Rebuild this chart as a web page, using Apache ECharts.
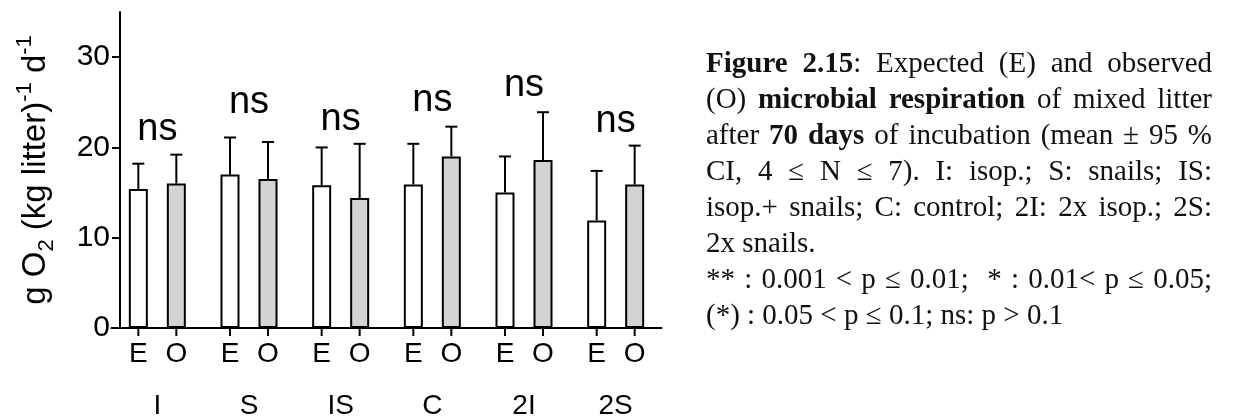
<!DOCTYPE html>
<html>
<head>
<meta charset="utf-8">
<title>Figure 2.15</title>
<script src="https://cdn.jsdelivr.net/npm/echarts@6/dist/echarts.min.js"></script>
<style>
  html, body { margin: 0; padding: 0; background: #fff; }
  #wrap { position: relative; width: 1243px; height: 418px; overflow: hidden; }
  #chart { position: absolute; left: 0; top: 0; width: 1243px; height: 418px; }
  #caption {
    position: absolute; left: 706px; top: 44px; width: 506px;
    font-family: "Liberation Serif", "Times New Roman", serif;
    font-size: 29px; line-height: 36px; color: #111;
  }
  #caption div { text-align: justify; text-align-last: justify; }
  #caption div.end { text-align-last: left; }
</style>
</head>
<body>
<div id="wrap">
  <div id="chart"></div>
  <div id="caption">
    <div><b>Figure 2.15</b>: Expected (E) and observed</div>
    <div>(O) <b>microbial respiration</b> of mixed litter</div>
    <div>after <b>70 days</b> of incubation (mean ± 95 %</div>
    <div>CI, 4 ≤ N ≤ 7). I: isop.; S: snails; IS:</div>
    <div>isop.+ snails; C: control; 2I: 2x isop.; 2S:</div>
    <div class="end">2x snails.</div>
    <div>** : 0.001 &lt; p ≤ 0.01; &nbsp;* : 0.01&lt; p ≤ 0.05;</div>
    <div class="end">(*) : 0.05 &lt; p ≤ 0.1; ns: p &gt; 0.1</div>
  </div>
</div>
<script>
// treatments and the two bars in each
const groups = ['I', 'S', 'IS', 'C', '2I', '2S'];
const subLabels = ['E', 'O'];
// means and upper end of the 95 % CI
const expectedMean = [15.4, 17.0, 15.8, 15.9, 15.0, 11.9];
const expectedUpper = [18.2, 21.1, 20.0, 20.4, 19.0, 17.4];
const observedMean = [16.0, 16.5, 14.4, 19.0, 18.6, 15.9];
const observedUpper = [19.2, 20.6, 20.4, 22.3, 23.9, 20.2];
// significance marks and the height they sit at
const sigLabels = ['ns', 'ns', 'ns', 'ns', 'ns', 'ns'];
const sigLevel = [21.7, 24.6, 22.8, 24.9, 26.5, 22.5];
const yTicks = [0, 10, 20, 30];

const FONT = '"Liberation Sans", Arial, Helvetica, sans-serif';
const BAR_W = 19;
const BAR_GAP = 1.0;
const HALF_STEP = BAR_W * (1 + BAR_GAP) / 2;
const black = '#000';

function barSeries(name, values, fill) {
  return {
    name,
    type: 'bar',
    data: values,
    barWidth: BAR_W,
    barGap: (BAR_GAP * 100) + '%',
    itemStyle: { color: fill, borderColor: black, borderWidth: 2 },
    silent: true,
    z: 2,
  };
}

// error bar (upper only), tick under the bar and its E / O label
function errorSeries(means, uppers, side, label) {
  return {
    type: 'custom',
    clip: false,
    silent: true,
    z: 3,
    encode: { x: 0, y: [1, 2] },
    data: means.map((m, i) => [i, m, uppers[i]]),
    renderItem(params, api) {
      const i = api.value(0);
      const base = api.coord([i, api.value(1)]);
      const top = api.coord([i, api.value(2)]);
      const zero = api.coord([i, 0]);
      const x = base[0] + side * HALF_STEP;
      const st = { stroke: black, lineWidth: 2 };
      return {
        type: 'group',
        children: [
          { type: 'line', shape: { x1: x, y1: base[1], x2: x, y2: top[1] }, style: st },
          { type: 'line', shape: { x1: x - 6, y1: top[1], x2: x + 6, y2: top[1] }, style: st },
          { type: 'line', shape: { x1: x, y1: zero[1], x2: x, y2: zero[1] + 8 }, style: st },
          {
            type: 'text', x: x, y: zero[1] + 26,
            style: { text: label, fontSize: 28, fontFamily: FONT, fill: black, align: 'center', verticalAlign: 'middle' },
          },
        ],
      };
    },
  };
}

const chart = echarts.init(document.getElementById('chart'));
chart.setOption({
  animation: false,
  backgroundColor: '#fff',
  grid: { left: 111.5, width: 550, top: 12, bottom: 90, containLabel: false, outerBoundsMode: 'none' },
  xAxis: {
    type: 'category',
    data: groups,
    axisLine: { lineStyle: { color: black, width: 2 } },
    axisTick: { show: false },
    axisLabel: { fontSize: 28, fontFamily: FONT, color: black, margin: 64 },
    splitLine: { show: false },
  },
  yAxis: {
    type: 'value',
    min: 0,
    max: 35,
    interval: 10,
    offset: -8.5,
    axisLine: { show: true, lineStyle: { color: black, width: 2 } },
    axisTick: { show: true, length: 8, lineStyle: { color: black, width: 2 }, customValues: yTicks },
    axisLabel: { fontSize: 30, fontFamily: FONT, color: black, margin: 10, customValues: yTicks },
    splitLine: { show: false },
    name: '{a|g O}{b|2}{a| (kg litter)}{c|-1}{a| d}{c|-1}',
    nameLocation: 'middle',
    nameRotate: 90,
    nameGap: 62,
    nameTextStyle: {
      rich: {
        a: { fontSize: 33, fontFamily: FONT, color: black, lineHeight: 44 },
        b: { fontSize: 22, fontFamily: FONT, color: black, lineHeight: 24, verticalAlign: 'bottom' },
        c: { fontSize: 22, fontFamily: FONT, color: black, lineHeight: 14, verticalAlign: 'top' },
      },
    },
  },
  series: [
    barSeries(subLabels[0], expectedMean, '#ffffff'),
    barSeries(subLabels[1], observedMean, '#d3d3d3'),
    errorSeries(expectedMean, expectedUpper, -1, subLabels[0]),
    errorSeries(observedMean, observedUpper, 1, subLabels[1]),
    {
      type: 'custom',
      clip: false,
      silent: true,
      z: 4,
      encode: { x: 0, y: 1 },
      data: sigLevel.map((v, i) => [i, v]),
      renderItem(params, api) {
        const p = api.coord([api.value(0), api.value(1)]);
        return {
          type: 'text', x: p[0], y: p[1] - 3,
          style: { text: sigLabels[params.dataIndex], fontSize: 38, fontFamily: FONT, fill: black, align: 'center', verticalAlign: 'middle' },
        };
      },
    },
  ],
});
</script>
</body>
</html>
